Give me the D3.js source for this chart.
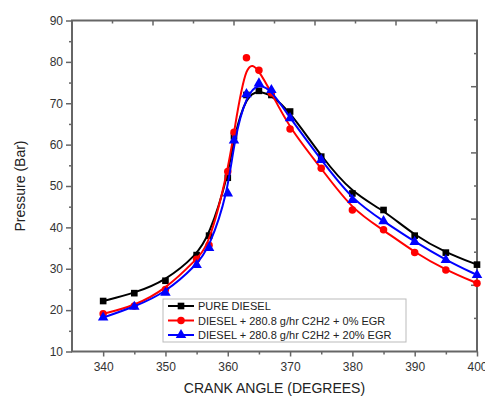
<!DOCTYPE html>
<html>
<head>
<meta charset="utf-8">
<script src="https://cdn.jsdelivr.net/npm/d3@7"></script>
<style>
    body { margin: 0; background: #fff; }
    text { font-family: Arial, "Liberation Sans", sans-serif; }
</style>
</head>
<body>
<svg id="chart" width="485" height="396"></svg>
<script>
// crank angle positions of the markers
let crank = [340, 345, 350, 355, 357, 360, 361, 363, 365, 367, 370, 375, 380, 385, 390, 395, 400]
// pressure (bar) for each series
let pureDiesel = [22.2, 24.1, 27.1, 33.3, 38, 52, 62, 72, 73, 72, 68, 57.1, 48.2, 44.2, 38, 33.9, 31]
let egr0 = [19.1, 21, 25, 32.3, 35.7, 53.5, 63, 81, 78, 72.5, 63.8, 54.3, 44.2, 39.4, 33.9, 29.7, 26.5]
let egr20 = [18.2, 20.8, 24.2, 30.9, 35, 48.2, 61, 72.2, 74.8, 73.2, 66.4, 56.3, 46.6, 41.5, 36.5, 32.1, 28.5]

let seriesNames = ['PURE DIESEL', 'DIESEL + 280.8 g/hr C2H2 + 0% EGR', 'DIESEL + 280.8 g/hr C2H2 + 20% EGR']
let xTicks = [340, 350, 360, 370, 380, 390, 400]
let yTicks = [10, 20, 30, 40, 50, 60, 70, 80, 90]

let series = [
    {name: seriesNames[0], values: pureDiesel, color: '#000000', marker: 'square'},
    {name: seriesNames[1], values: egr0, color: '#ff0000', marker: 'circle'},
    {name: seriesNames[2], values: egr20, color: '#0000ff', marker: 'triangle'}
]

let svg = d3.select('#chart')
let margin = {top: 20.5, right: 8, bottom: 44.5, left: 72}
let width = +svg.attr('width')
let height = +svg.attr('height')

let x = d3.scaleLinear()
    .domain([335, 400])
    .range([margin.left, width - margin.right])
let y = d3.scaleLinear()
    .domain([10, 90])
    .range([height - margin.bottom, margin.top])

let axisColor = '#666'

// minor + major ticks, left
let yMinor = d3.range(15, 90, 10)
svg.append('g')
    .attr('transform', 'translate(' + margin.left + ',0)')
    .call(d3.axisLeft(y).tickValues(yMinor).tickSize(3).tickFormat(''))
    .call(function (g) { g.select('.domain').remove() })
    .selectAll('line').attr('stroke', axisColor).attr('stroke-width', 1.5)

let yAxis = svg.append('g')
    .attr('transform', 'translate(' + margin.left + ',0)')
    .call(d3.axisLeft(y).tickValues(yTicks).tickSize(6).tickPadding(3))
yAxis.select('.domain').remove()
yAxis.selectAll('line').attr('stroke', axisColor).attr('stroke-width', 1.5)
yAxis.selectAll('text').style('font-size', '12px').attr('fill', '#333')

// bottom
let xMinor = d3.range(345, 400, 10)
svg.append('g')
    .attr('transform', 'translate(0,' + (height - margin.bottom) + ')')
    .call(d3.axisBottom(x).tickValues(xMinor).tickSize(3).tickFormat(''))
    .call(function (g) { g.select('.domain').remove() })
    .selectAll('line').attr('stroke', axisColor).attr('stroke-width', 1.5)

let xAxis = svg.append('g')
    .attr('transform', 'translate(0,' + (height - margin.bottom) + ')')
    .call(d3.axisBottom(x).tickValues(xTicks).tickSize(5).tickPadding(6))
xAxis.select('.domain').remove()
xAxis.selectAll('line').attr('stroke', axisColor).attr('stroke-width', 1.5)
xAxis.selectAll('text').style('font-size', '12px').attr('fill', '#333')

// top and right axes have their own 10 division scale
let topScale = d3.scaleLinear().domain([0, 10]).range([margin.left, width - margin.right])
let rightScale = d3.scaleLinear().domain([0, 10]).range([margin.top, height - margin.bottom])
svg.append('g')
    .selectAll('line')
    .data(d3.range(1, 10))
    .enter()
    .append('line')
    .attr('x1', function (d) { return topScale(d) })
    .attr('x2', function (d) { return topScale(d) })
    .attr('y1', margin.top)
    .attr('y2', function (d) { return margin.top + (d % 2 == 0 ? 5 : 3) })
    .attr('stroke', axisColor).attr('stroke-width', 1.5)
svg.append('g')
    .selectAll('line')
    .data(d3.range(1, 10))
    .enter()
    .append('line')
    .attr('y1', function (d) { return rightScale(d) })
    .attr('y2', function (d) { return rightScale(d) })
    .attr('x1', width - margin.right)
    .attr('x2', function (d) { return width - margin.right - (d % 2 == 0 ? 6 : 3) })
    .attr('stroke', axisColor).attr('stroke-width', 1.5)

// frame
svg.append('rect')
    .attr('x', margin.left)
    .attr('y', margin.top)
    .attr('width', width - margin.right - margin.left)
    .attr('height', height - margin.bottom - margin.top)
    .attr('fill', 'none')
    .attr('stroke', axisColor)
    .attr('stroke-width', 2)

// axis titles
svg.append('text')
    .attr('x', (margin.left + width - margin.right) / 2)
    .attr('y', 393)
    .attr('text-anchor', 'middle')
    .style('font-size', '14px')
    .attr('fill', '#222')
    .text('CRANK ANGLE (DEGREES)')
svg.append('text')
    .attr('transform', 'translate(25,' + ((margin.top + height - margin.bottom) / 2) + ') rotate(-90)')
    .attr('text-anchor', 'middle')
    .style('font-size', '14px')
    .attr('fill', '#222')
    .text('Pressure (Bar)')

let symbols = {
    square: d3.symbol().type(d3.symbolSquare).size(44),
    circle: d3.symbol().type(d3.symbolCircle).size(44),
    triangle: d3.symbol().type(d3.symbolTriangle).size(48)
}

let line = d3.line()
    .x(function (d) { return x(d[0]) })
    .y(function (d) { return y(d[1]) })
    .curve(d3.curveBasis)

series.forEach(function (s) {
    let pts = crank.map(function (c, i) { return [c, s.values[i]] })
    svg.append('path')
        .datum(pts)
        .attr('d', line)
        .attr('fill', 'none')
        .attr('stroke', s.color)
        .attr('stroke-width', 2)
    svg.append('g')
        .selectAll('path')
        .data(pts)
        .enter()
        .append('path')
        .attr('d', symbols[s.marker])
        .attr('transform', function (d) { return 'translate(' + x(d[0]) + ',' + y(d[1]) + ')' })
        .attr('fill', s.color)
})

// legend
let legend = svg.append('g').attr('transform', 'translate(163,299)')
legend.append('rect')
    .attr('width', 243)
    .attr('height', 43)
    .attr('fill', '#fff')
    .attr('stroke', '#bbb')
    .attr('stroke-width', 1)
series.forEach(function (s, i) {
    let row = legend.append('g').attr('transform', 'translate(0,' + (7 + i * 14.5) + ')')
    row.append('line')
        .attr('x1', 5).attr('x2', 31)
        .attr('stroke', s.color).attr('stroke-width', 2)
    row.append('path')
        .attr('d', symbols[s.marker])
        .attr('transform', 'translate(18,0)')
        .attr('fill', s.color)
    row.append('text')
        .attr('x', 35)
        .attr('y', 4)
        .style('font-size', '11px')
        .attr('fill', '#222')
        .text(s.name)
})
</script>
</body>
</html>
